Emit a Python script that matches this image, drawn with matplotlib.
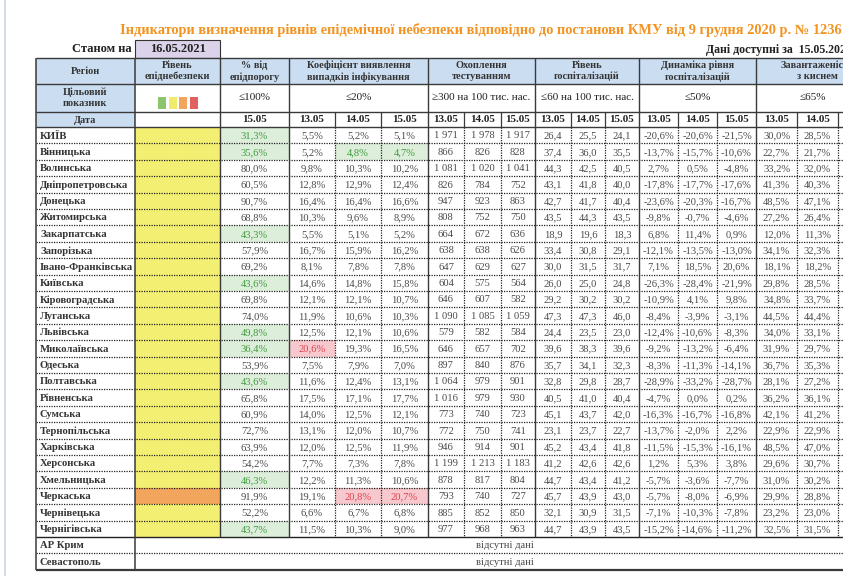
import matplotlib.pyplot as plt
from matplotlib.patches import Rectangle

plt.rcParams['font.family'] = ['Liberation Serif', 'DejaVu Serif']

title = "Індикатори визначення рівнів епідемічної небезпеки відповідно до постанови КМУ від 9 грудня 2020 р. № 1236"
as_of = "16.05.2021"
data_date = "15.05.2021"

regions = ["КИЇВ", "Вінницька", "Волинська", "Дніпропетровська", "Донецька", "Житомирська",
           "Закарпатська", "Запорізька", "Івано-Франківська", "Київська", "Кіровоградська",
           "Луганська", "Львівська", "Миколаївська", "Одеська", "Полтавська", "Рівненська",
           "Сумська", "Тернопільська", "Харківська", "Херсонська", "Хмельницька", "Черкаська",
           "Чернівецька", "Чернігівська"]
no_data_regions = ["АР Крим", "Севастополь"]

# рівень епіднебезпеки
levels = ["yellow"] * 22 + ["orange"] + ["yellow"] * 2

# % від епідпорогу (15.05)
pct_threshold = [31.3, 35.6, 80.0, 60.5, 90.7, 68.8, 43.3, 57.9, 69.2, 43.6, 69.8, 74.0, 49.8,
                 36.4, 53.9, 43.6, 65.8, 60.9, 72.7, 63.9, 54.2, 46.3, 91.9, 52.2, 43.7]

# коефіцієнт виявлення 13.05 / 14.05 / 15.05
detect_13 = [5.5, 5.2, 9.8, 12.8, 16.4, 10.3, 5.5, 16.7, 8.1, 14.6, 12.1, 11.9, 12.5,
             20.6, 7.5, 11.6, 17.5, 14.0, 13.1, 12.0, 7.7, 12.2, 19.1, 6.6, 11.5]
detect_14 = [5.2, 4.8, 10.3, 12.9, 16.4, 9.6, 5.1, 15.9, 7.8, 14.8, 12.1, 10.6, 12.1,
             19.3, 7.9, 12.4, 17.1, 12.5, 12.0, 12.5, 7.3, 11.3, 20.8, 6.7, 10.3]
detect_15 = [5.1, 4.7, 10.2, 12.4, 16.6, 8.9, 5.2, 16.2, 7.8, 15.8, 10.7, 10.3, 10.6,
             16.5, 7.0, 13.1, 17.7, 12.1, 10.7, 11.9, 7.8, 10.6, 20.7, 6.8, 9.0]

# охоплення тестуванням
tests_13 = [1971, 866, 1081, 826, 947, 808, 664, 638, 647, 604, 646, 1090, 579,
            646, 897, 1064, 1016, 773, 772, 946, 1199, 878, 793, 885, 977]
tests_14 = [1978, 826, 1020, 784, 923, 752, 672, 638, 629, 575, 607, 1085, 582,
            657, 840, 979, 979, 740, 750, 914, 1213, 817, 740, 852, 968]
tests_15 = [1917, 828, 1041, 752, 863, 750, 636, 626, 627, 564, 582, 1059, 584,
            702, 876, 901, 930, 723, 741, 901, 1183, 804, 727, 850, 963]

# рівень госпіталізацій
hosp_13 = [26.4, 37.4, 44.3, 43.1, 42.7, 43.5, 18.9, 33.4, 30.0, 26.0, 29.2, 47.3, 24.4,
           39.6, 35.7, 32.8, 40.5, 45.1, 23.1, 45.2, 41.2, 44.7, 45.7, 32.1, 44.7]
hosp_14 = [25.5, 36.0, 42.5, 41.8, 41.7, 44.3, 19.6, 30.8, 31.5, 25.0, 30.2, 47.3, 23.5,
           38.3, 34.1, 29.8, 41.0, 43.7, 23.7, 43.4, 42.6, 43.4, 43.9, 30.9, 43.9]
hosp_15 = [24.1, 35.5, 40.5, 40.0, 40.4, 43.5, 18.3, 29.1, 31.7, 24.8, 30.2, 46.0, 23.0,
           39.6, 32.3, 28.7, 40.4, 42.0, 22.7, 41.8, 42.6, 41.2, 43.0, 31.5, 43.5]

# динаміка рівня госпіталізацій
dyn_13 = [-20.6, -13.7, 2.7, -17.8, -23.6, -9.8, 6.8, -12.1, 7.1, -26.3, -10.9, -8.4, -12.4,
          -9.2, -8.3, -28.9, -4.7, -16.3, -13.7, -11.5, 1.2, -5.7, -5.7, -7.1, -15.2]
dyn_14 = [-20.6, -15.7, 0.5, -17.7, -20.3, -0.7, 11.4, -13.5, 18.5, -28.4, 4.1, -3.9, -10.6,
          -13.2, -11.3, -33.2, 0.0, -16.7, -2.0, -15.3, 5.3, -3.6, -8.0, -10.3, -14.6]
dyn_15 = [-21.5, -10.6, -4.8, -17.6, -16.7, -4.6, 0.9, -13.0, 20.6, -21.9, 9.8, -3.1, -8.3,
          -6.4, -14.1, -28.7, 0.2, -16.8, 2.2, -16.1, 3.8, -7.7, -6.9, -7.8, -11.2]

# завантаженість ліжок з киснем
oxy_13 = [30.0, 22.7, 33.2, 41.3, 48.5, 27.2, 12.0, 34.1, 18.1, 29.8, 34.8, 44.5, 34.0,
          31.9, 36.7, 28.1, 36.2, 42.1, 22.9, 48.5, 29.6, 31.0, 29.9, 23.2, 32.5]
oxy_14 = [28.5, 21.7, 32.0, 40.3, 47.1, 26.4, 11.3, 32.3, 18.2, 28.5, 33.7, 44.4, 33.1,
          29.7, 35.3, 27.2, 36.1, 41.2, 22.9, 47.0, 30.7, 30.2, 28.8, 23.0, 31.5]

group_titles = ["% від\nепідпорогу", "Коефіцієнт виявлення\nвипадків інфікування",
                "Охоплення\nтестуванням", "Рівень\nгоспіталізацій",
                "Динаміка рівня\nгоспіталізацій", "Завантаженість\nз киснем"]
group_targets = ["≤100%", "≤20%", "≥300 на 100 тис. нас.", "≤60 на 100 тис. нас.", "≤50%", "≤65%"]
dates = ["13.05", "14.05", "15.05"]

# ---- layout (pixel coords) ----
W, H = 843, 576
edges = [36, 135, 220, 289, 335, 381, 428, 464, 501, 535, 571, 605, 639, 678, 717, 756, 797, 838, 879]
group_edges = [220, 289, 428, 535, 639, 756, 879]
y_top, y1, y2, y3 = 58, 84, 112, 127
row_h = 16.4
n = len(regions)
y_end = y3 + n * row_h
y_bottom = y_end + 2 * row_h

header_blue = "#CADDF1"
fills = {"yellow": "#F3EF73", "orange": "#F2A55C"}
green_bg, green_fg = "#DDEEDB", "#3E9B3E"
pink_bg, pink_fg = "#F7C9CE", "#E0404C"
txt = "#4A4A4A"

fig = plt.figure(figsize=(W / 100, H / 100), dpi=100)
ax = fig.add_axes([0, 0, 1, 1])
ax.set_xlim(0, W)
ax.set_ylim(H, 0)
ax.axis('off')

# page border
ax.vlines(5, 0, H, color="#C9D3E3", lw=1.2)

ax.text(120, 30, title, color="#F39321", fontsize=10.4, fontweight='bold', va='center', ha='left')
ax.text(132, 49, "Станом на", fontsize=9, fontweight='bold', ha='right', va='center', color="#222")
ax.add_patch(Rectangle((135, 40), 85, 18, facecolor="#DCD3EA", edgecolor="#333", lw=0.8))
ax.text(177.5, 49, as_of, fontsize=9, fontweight='bold', ha='center', va='center', color="#222")
ax.text(706, 50, "Дані доступні за  " + data_date, fontsize=8.6, fontweight='bold',
        ha='left', va='center', color="#222")

# header fills
ax.add_patch(Rectangle((36, y_top), W, y1 - y_top, facecolor=header_blue, lw=0))
ax.add_patch(Rectangle((36, y1), 135 - 36, y3 - y1, facecolor=header_blue, lw=0))

hkw = dict(fontsize=7.4, fontweight='bold', ha='center', va='center', color="#333", linespacing=1.25)
ax.text(85, (y_top + y1) / 2, "Регіон", **hkw)
ax.text(177.5, (y_top + y1) / 2, "Рівень\nепіднебезпеки", **hkw)
ax.text(85, (y1 + y2) / 2, "Цільовий\nпоказник", **hkw)
ax.text(85, (y2 + y3) / 2 + 1, "Дата", **hkw)
for i, (t, tg) in enumerate(zip(group_titles, group_targets)):
    cx = (group_edges[i] + group_edges[i + 1]) / 2
    ax.text(cx, (y_top + y1) / 2, t, **hkw)
    ax.text(cx - (5 if i == 5 else 0), (y1 + y2) / 2, tg, fontsize=8, ha='center', va='center', color="#222")

# legend squares for levels
for k, c in enumerate(["#8DC46E", "#EFEC6C", "#F3A65B", "#E2605F"]):
    ax.add_patch(Rectangle((158 + k * 10.5, 97), 8, 12, facecolor=c, lw=0))

# date row (last oxygen column lies beyond the visible area)
date_cells = ["15.05"] + dates * 4 + dates[:2]
for j, d in enumerate(date_cells):
    cx = (edges[j + 2] + edges[j + 3]) / 2
    ax.text(cx, (y2 + y3) / 2 + 0.5, d, fontsize=8, fontweight='bold', ha='center', va='center', color="#222")


def fmt_pct(v):
    return f"{v:.1f}".replace('.', ',') + '%'


def fmt_num(v):
    return f"{v:.1f}".replace('.', ',')


def fmt_int(v):
    return f"{v:,}".replace(',', ' ')


def detect_rule(v):
    if v < 5:
        return 'g'
    if v > 20:
        return 'r'
    return None


columns = [
    (pct_threshold, fmt_pct, lambda v: 'g' if v < 50 else None),
    (detect_13, fmt_pct, detect_rule),
    (detect_14, fmt_pct, detect_rule),
    (detect_15, fmt_pct, detect_rule),
    (tests_13, fmt_int, lambda v: None),
    (tests_14, fmt_int, lambda v: None),
    (tests_15, fmt_int, lambda v: None),
    (hosp_13, fmt_num, lambda v: None),
    (hosp_14, fmt_num, lambda v: None),
    (hosp_15, fmt_num, lambda v: None),
    (dyn_13, fmt_pct, lambda v: None),
    (dyn_14, fmt_pct, lambda v: None),
    (dyn_15, fmt_pct, lambda v: None),
    (oxy_13, fmt_pct, lambda v: None),
    (oxy_14, fmt_pct, lambda v: None),
]

for r, name in enumerate(regions):
    top = y3 + r * row_h
    cy = top + row_h / 2 + 0.8
    ax.add_patch(Rectangle((135, top), 85, row_h, facecolor=fills[levels[r]], lw=0))
    ax.text(40, cy, name, fontsize=7.7, fontweight='bold', ha='left', va='center', color="#333")
    for j, (vals, f, rule) in enumerate(columns):
        x0, x1 = edges[j + 2], edges[j + 3]
        v = vals[r]
        mark = rule(v)
        color = txt
        if mark == 'g':
            ax.add_patch(Rectangle((x0, top), x1 - x0, row_h, facecolor=green_bg, lw=0))
            color = green_fg
        elif mark == 'r':
            ax.add_patch(Rectangle((x0, top), x1 - x0, row_h, facecolor=pink_bg, lw=0))
            color = pink_fg
        ax.text((x0 + x1) / 2, cy, f(v), fontsize=7.6, ha='center', va='center', color=color)

for k, name in enumerate(no_data_regions):
    top = y_end + k * row_h
    cy = top + row_h / 2 + 0.8
    ax.text(40, cy, name, fontsize=7.7, fontweight='bold', ha='left', va='center', color="#333")
    ax.text(505, cy, "відсутні дані", fontsize=7.6, ha='center', va='center', color=txt)

# grid lines
dark = "#3A3A3A"
dot = (0, (1, 1))
for y in [y_top, y1, y2, y3]:
    ax.hlines(y, 36, W, color=dark, lw=1.0)
for r in range(1, n + 2):
    y = y3 + r * row_h
    ax.hlines(y, 36, W, color="#222", lw=0.9 if r != n else 1.0,
              linestyles='solid' if r == n else dot)
ax.hlines(y_bottom, 36, W, color=dark, lw=1.6)

for x in [36, 135]:
    ax.vlines(x, y_top, y_bottom, color=dark, lw=1.1)
for x in group_edges[:-1]:
    ax.vlines(x, y_top, y_end, color=dark, lw=1.0)
for x in edges[3:-1]:
    if x not in group_edges:
        ax.vlines(x, y3, y_end, color="#222", lw=0.9, linestyles=dot)
        ax.vlines(x, y2, y3, color=dark, lw=0.9)

fig.savefig("out.png", dpi=100)
